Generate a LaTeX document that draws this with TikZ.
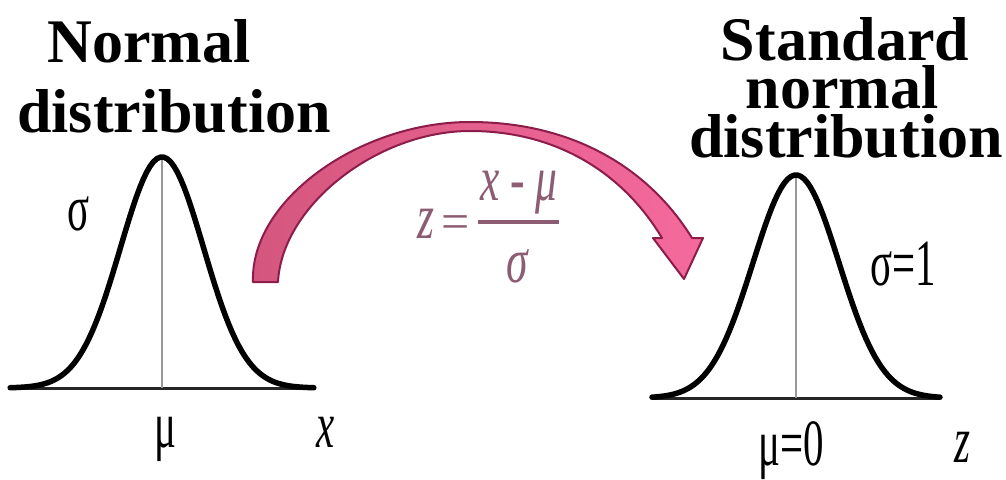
\documentclass[tikz,border=0pt]{standalone}
\usepackage{fontspec}
\setmainfont{Liberation Serif}[Ligatures=TeX]
\usepackage{tikz}
\definecolor{archfill}{RGB}{212,86,126}
\definecolor{archfillR}{RGB}{244,106,156}
\definecolor{archline}{RGB}{140,28,74}
\definecolor{fmlcol}{RGB}{140,92,115}
\newcommand{\condtext}[1]{\scalebox{0.62}[1]{#1}}
\newcommand{\condfml}[1]{\scalebox{0.68}[1]{#1}}

\begin{document}
\begin{tikzpicture}[
    x=1pt, y=-1pt,
    ttl/.style={font=\fontsize{62}{62}\selectfont\rmfamily\bfseries, anchor=base,
                inner sep=0pt, text height=0.68em, text depth=0pt},
    lbl/.style={font=\fontsize{66}{66}\selectfont\rmfamily, anchor=base, inner sep=0pt},
    fml/.style={font=\fontsize{64}{64}\selectfont\rmfamily\itshape, text=fmlcol,
                anchor=base, inner sep=0pt},
    bell/.style={line width=5.5pt, line join=round, line cap=round},
    axisln/.style={line width=3pt, black!85},
    midln/.style={line width=2.5pt, black!40},
]
\useasboundingbox (0,0) rectangle (1006,479);
% titles
\node[ttl] (normA) at (149,62) {Normal};
\node[ttl] (normB) at (174,132) {distribution};
\node[ttl] (stdA) at (845,60) {Standard};
\node[ttl] (stdB) at (842,108) {normal};
\node[ttl] (stdC) at (846,157) {distribution};
% left bell curve
\draw[axisln] (10,388) -- (312,388);
\draw[midln] (162,388) -- (162,157);
\draw[bell] plot[domain=-3.65:3.65, samples=90] ({162+41.6*\x},{388-231*exp(-\x*\x/2)});
\node[lbl] (sigL) at (79,230) {\condtext{σ}};
\node[lbl] (muL) at (165,447) {\condtext{μ}};
\node[lbl] (xL) at (326,447) {\condtext{\itshape x}};
% right bell curve
\draw[axisln] (652,398) -- (940,398);
\draw[midln] (796,398) -- (796,175);
\draw[bell] plot[domain=-3.35:3.35, samples=90] ({796+43*\x},{398-223*exp(-\x*\x/2)});
\node[lbl] (sigR) at (903,285) {\condtext{σ=1}};
\node[lbl] (muR) at (791,465) {\condtext{μ=0}};
\node[lbl] (zR) at (962,462) {\condtext{\itshape z}};
% curved arrow from left to right
\path[left color=archfill, right color=archfillR, draw=archline, line width=2pt, line join=round]
    (253,282) .. controls (250,200) and (360,122) .. (470,122)
    .. controls (575,122) and (650,170) .. (692,238)
    -- (703,238) -- (684,279) -- (653,238) -- (662,238)
    .. controls (625,176) and (560,131) .. (470,131)
    .. controls (378,131) and (282,205) .. (278,282) -- cycle;
% z = (x - mu)/sigma
\node[fml] (fz) at (426,238) {\condfml{z}};
\node[fml, font=\fontsize{50}{50}\selectfont\rmfamily] (feq) at (456,238) {=};
\node[fml] (fnum) at (519,200) {\condfml{x - μ}};
\node[fml] (fden) at (517,282) {\condfml{σ}};
\coordinate (barL) at (478,222);
\coordinate (barR) at (559,222);
\draw[fmlcol, line width=3.5pt] (barL) -- (barR);
\end{tikzpicture}
\end{document}
